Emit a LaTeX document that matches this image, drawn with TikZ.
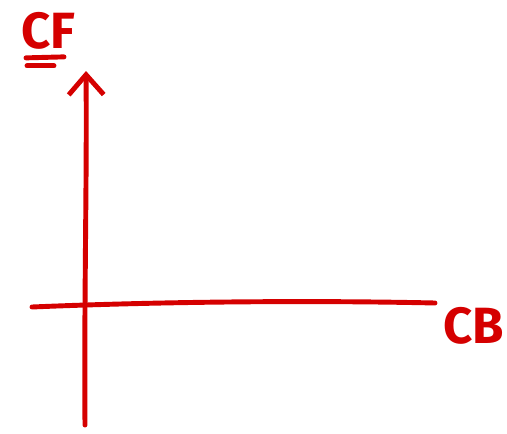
\documentclass[tikz,border=0pt]{standalone}
\usepackage{fontspec}
\setsansfont{Fira Sans}
\usetikzlibrary{arrows.meta,positioning,calc}
\definecolor{PenRed}{HTML}{D50000}
\tikzset{>=Stealth,every node/.style={font=\sffamily\bfseries\fontsize{29}{29}\selectfont},
 axis/.style={draw=PenRed,line width=2.8pt,line cap=round},
 label/.style={text=PenRed,inner sep=0pt}}

\begin{document}
\begin{tikzpicture}[x=0.02cm,y=-0.02cm]
\useasboundingbox (0,0) rectangle (507,433);
\coordinate (yb) at (85,425);
\coordinate (yt) at (86,71);
\coordinate (xl) at (32,307);
\coordinate (xr) at (435,303);
\node[label,anchor=west] (cf) at (21,31) {CF};
\node[label,anchor=west] (cb) at (443,326) {CB};
% axes
\draw[axis,-{Straight Barb[length=4mm,width=7mm,line width=2.8pt]}] (yb) .. controls (84,300) and (87,180) .. (yt);
\draw[axis] (xl) .. controls (150,302) and (300,300) .. (xr);
% double underline
\draw[axis] ($(cf.south west)+(5,8)$) -- ++(38,-1);
\draw[axis] ($(cf.south west)+(6,16)$) -- ++(27,0);
\end{tikzpicture}
\end{document}
